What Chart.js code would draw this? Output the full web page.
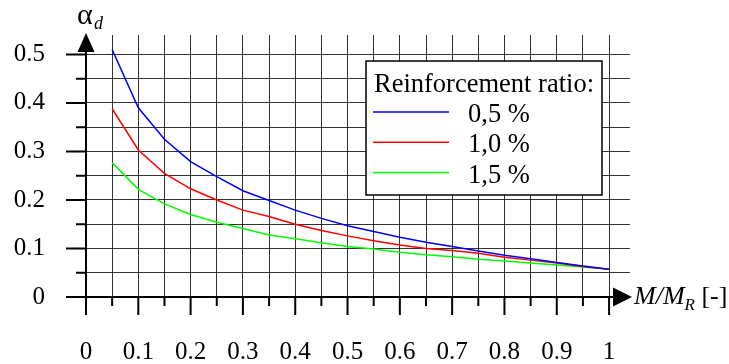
<!DOCTYPE html>
<html>
<head>
<meta charset="utf-8">
<title>alpha_d vs M/M_R</title>
<script src="https://cdn.jsdelivr.net/npm/chart.js@4/dist/chart.umd.min.js"></script>
<style>
  html, body { margin: 0; padding: 0; background: #fff; }
</style>
</head>
<body>
<canvas id="graphCanvas" width="729" height="364"></canvas>
<script>
// data
var mRatio = [0.05, 0.10, 0.15, 0.20, 0.25, 0.30, 0.35, 0.40, 0.45, 0.50,
              0.55, 0.60, 0.65, 0.70, 0.75, 0.80, 0.85, 0.90, 0.95, 1.00];
var alpha05 = [0.510, 0.390, 0.325, 0.279, 0.248, 0.219, 0.199, 0.179, 0.162, 0.147,
               0.135, 0.123, 0.113, 0.104, 0.095, 0.086, 0.079, 0.071, 0.064, 0.057];
var alpha10 = [0.388, 0.303, 0.255, 0.223, 0.200, 0.179, 0.166, 0.150, 0.137, 0.126,
               0.116, 0.107, 0.100, 0.096, 0.090, 0.082, 0.076, 0.070, 0.063, 0.057];
var alpha15 = [0.277, 0.222, 0.192, 0.170, 0.154, 0.141, 0.128, 0.120, 0.112, 0.104,
               0.099, 0.092, 0.087, 0.083, 0.078, 0.074, 0.070, 0.066, 0.062, 0.057];
var seriesNames = ['0,5 %', '1,0 %', '1,5 %'];
var legendTitle = 'Reinforcement ratio:';

// grid / tick values
var xGrid = [0, 0.05, 0.1, 0.15, 0.2, 0.25, 0.3, 0.35, 0.4, 0.45, 0.5,
             0.55, 0.6, 0.65, 0.7, 0.75, 0.8, 0.85, 0.9, 0.95, 1];
var yGrid = [0, 0.05, 0.1, 0.15, 0.2, 0.25, 0.3, 0.35, 0.4, 0.45, 0.5];
var xMajor = [0, 0.1, 0.2, 0.3, 0.4, 0.5, 0.6, 0.7, 0.8, 0.9, 1];
var xTickLabels = ['0', '0.1', '0.2', '0.3', '0.4', '0.5', '0.6', '0.7', '0.8', '0.9', '1'];
var yMajor = [0, 0.1, 0.2, 0.3, 0.4, 0.5];
var yTickLabels = ['0', '0.1', '0.2', '0.3', '0.4', '0.5'];

var serif = "'Liberation Serif', 'Times New Roman', serif";

function pts(ys) {
    var out = [];
    for (var i = 0; i < mRatio.length; i++) out.push({ x: mRatio[i], y: ys[i] });
    return out;
}

function labelFor(v, majors, labels) {
    for (var i = 0; i < majors.length; i++) {
        if (Math.abs(majors[i] - v) < 1e-9) return labels[i];
    }
    return '';
}

function isMajor(v, majors) {
    return labelFor(v, majors, majors.map(function () { return 'x'; })) !== '';
}

// axis lines, ticks, arrows and titles
var axesPlugin = {
    id: 'axes',
    afterDatasetsDraw: function (chart) {
        var ctx = chart.ctx, xs = chart.scales.x, ys = chart.scales.y, area = chart.chartArea;
        var x0 = xs.getPixelForValue(0), y0 = ys.getPixelForValue(0);
        ctx.save();
        ctx.strokeStyle = '#000';
        ctx.fillStyle = '#000';
        ctx.lineWidth = 2;
        ctx.lineCap = 'butt';

        var yTip = area.top - 2, yBase = yTip + 19;
        var xTip = area.right + 2, xBase = xTip - 19;

        ctx.beginPath();
        ctx.moveTo(x0, y0 + 18);
        ctx.lineTo(x0, yBase);
        ctx.moveTo(x0 - 20, y0);
        ctx.lineTo(xBase, y0);
        // ticks
        xGrid.forEach(function (v) {
            var px = xs.getPixelForValue(v);
            ctx.moveTo(px, y0);
            ctx.lineTo(px, y0 + (isMajor(v, xMajor) ? 18 : 9));
        });
        yGrid.forEach(function (v) {
            var py = ys.getPixelForValue(v);
            ctx.moveTo(x0, py);
            ctx.lineTo(x0 - (isMajor(v, yMajor) ? 20 : 10), py);
        });
        ctx.stroke();

        // arrows
        ctx.beginPath();
        ctx.moveTo(x0, yTip);
        ctx.lineTo(x0 - 8.5, yBase);
        ctx.lineTo(x0 + 8.5, yBase);
        ctx.closePath();
        ctx.fill();
        ctx.beginPath();
        ctx.moveTo(xTip, y0);
        ctx.lineTo(xBase, y0 - 9.5);
        ctx.lineTo(xBase, y0 + 9.5);
        ctx.closePath();
        ctx.fill();

        // axis titles
        ctx.textBaseline = 'alphabetic';
        ctx.textAlign = 'left';
        ctx.font = '30px ' + serif;
        ctx.fillText('\u03B1', x0 - 9, 24);
        ctx.font = 'italic 18px ' + serif;
        ctx.fillText('d', x0 + 8, 29);

        var tx = xTip + 2, ty = y0 + 7;
        ctx.font = 'italic 26px ' + serif;
        ctx.fillText('M/M', tx, ty);
        tx += ctx.measureText('M/M').width;
        ctx.font = 'italic 17px ' + serif;
        ctx.fillText('R', tx, ty + 6);
        tx += ctx.measureText('R').width;
        ctx.font = '26px ' + serif;
        ctx.fillText(' [-]', tx, ty);
        ctx.restore();
    }
};

// legend box inside the plot
var legendBoxPlugin = {
    id: 'legendBox',
    afterDraw: function (chart) {
        var ctx = chart.ctx;
        var bx = 366, by = 61, bw = 236, bh = 134;
        ctx.save();
        ctx.fillStyle = '#fff';
        ctx.fillRect(bx, by, bw, bh);
        ctx.strokeStyle = '#000';
        ctx.lineWidth = 1.5;
        ctx.strokeRect(bx, by, bw, bh);

        ctx.fillStyle = '#000';
        ctx.font = '26.5px ' + serif;
        ctx.textBaseline = 'alphabetic';
        ctx.textAlign = 'left';
        ctx.fillText(legendTitle, bx + 8, by + 31);

        chart.data.datasets.forEach(function (ds, i) {
            var ly = by + 51 + i * 30.3;
            ctx.strokeStyle = ds.borderColor;
            ctx.lineWidth = 1.5;
            ctx.beginPath();
            ctx.moveTo(bx + 7, ly);
            ctx.lineTo(bx + 83, ly);
            ctx.stroke();
            ctx.fillStyle = '#000';
            ctx.fillText(ds.label, bx + 102, ly + 10);
        });
        ctx.restore();
    }
};

var chartdata = {
    datasets: [
        { label: seriesNames[0], data: pts(alpha05), borderColor: '#0000ff' },
        { label: seriesNames[1], data: pts(alpha10), borderColor: '#ff0000' },
        { label: seriesNames[2], data: pts(alpha15), borderColor: '#00ff00' }
    ]
};
chartdata.datasets.forEach(function (ds) {
    ds.borderWidth = 1.5;
    ds.pointRadius = 0;
    ds.tension = 0;
    ds.fill = false;
});

var gridColor = 'rgba(0,0,0,0.8)';

new Chart(document.getElementById('graphCanvas'), {
    type: 'line',
    data: chartdata,
    options: {
        responsive: false,
        animation: false,
        devicePixelRatio: 1,
        layout: { padding: { left: 0, right: 99, top: 35, bottom: 0 } },
        plugins: { legend: { display: false }, tooltip: { enabled: false } },
        scales: {
            x: {
                type: 'linear',
                min: 0,
                max: 1.04,
                afterBuildTicks: function (s) { s.ticks = xGrid.map(function (v) { return { value: v }; }); },
                afterFit: function (s) { s.height = 67; s.paddingLeft = 0; s.paddingRight = 0; },
                border: { display: false },
                grid: { color: gridColor, lineWidth: 1, drawTicks: false },
                ticks: {
                    autoSkip: false,
                    maxRotation: 0,
                    padding: 40,
                    color: '#000',
                    font: { family: serif, size: 25 },
                    callback: function (v) { return labelFor(v, xMajor, xTickLabels); }
                }
            },
            y: {
                type: 'linear',
                min: 0,
                max: 0.54,
                afterBuildTicks: function (s) { s.ticks = yGrid.map(function (v) { return { value: v }; }); },
                afterFit: function (s) { s.width = 86; s.paddingTop = 0; s.paddingBottom = 0; },
                border: { display: false },
                grid: { color: gridColor, lineWidth: 1, drawTicks: false },
                ticks: {
                    autoSkip: false,
                    padding: 41,
                    color: '#000',
                    font: { family: serif, size: 25 },
                    callback: function (v) { return labelFor(v, yMajor, yTickLabels); }
                }
            }
        }
    },
    plugins: [axesPlugin, legendBoxPlugin]
});
</script>
</body>
</html>
